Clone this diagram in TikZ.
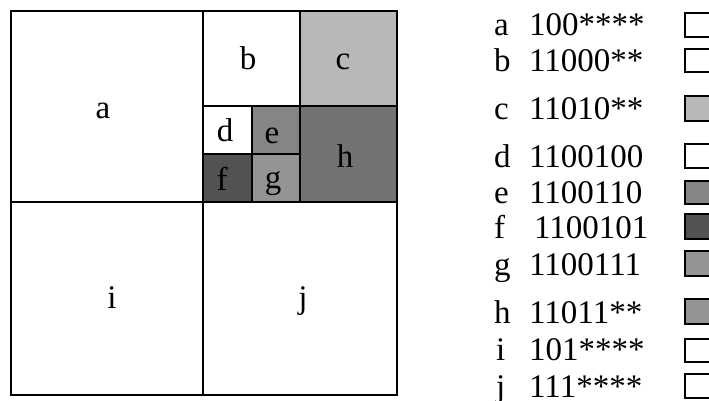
\documentclass[tikz,border=0pt]{standalone}
\usepackage{fontspec}
\setmainfont{Liberation Serif}
\begin{document}
\begin{tikzpicture}[x=1pt,y=-1pt,line width=2.4pt,
  every node/.style={inner sep=0pt,font=\fontsize{33}{40}\selectfont},
  lab/.style={anchor=base},
  leg/.style={anchor=base west},
  legbox/.style={draw,line width=2.6pt},
  shC/.style={fill=black!28},
  shE/.style={fill=black!48},
  shF/.style={fill=black!68},
  shG/.style={fill=black!42},
  shH/.style={fill=black!55}]
\useasboundingbox (0,0) rectangle (709,401);
% shaded regions
\fill[shC] (300,11) rectangle (397,106);
\fill[shE] (252,106) rectangle (300,154);
\fill[shF] (203,154) rectangle (252,202);
\fill[shG] (252,154) rectangle (300,202);
\fill[shH] (300,106) rectangle (397,202);
% lines
\draw (11,11) rectangle (397,395);
\draw (203,11) -- (203,395);
\draw (11,202) -- (397,202);
\draw (300,11) -- (300,202);
\draw (203,106) -- (397,106);
\draw (252,106) -- (252,202);
\draw (203,154) -- (300,154);
% labels
\node[lab] (la) at (103,118) {a};
\node[lab] (lb) at (248,70) {b};
\node[lab] (lc) at (343,70) {c};
\node[lab] (ld) at (225,142) {d};
\node[lab] (le) at (272,143) {e};
\node[lab] (lf) at (222,190) {f};
\node[lab] (lg) at (273,188) {g};
\node[lab] (lh) at (345,167) {h};
\node[lab] (li) at (112,308) {i};
\node[lab] (lj) at (303,308) {j};
% legend
\node[leg] (ka) at (493,36) {a};  \node[leg] (ca) at (528,36) {100****};
\node[leg] (kb) at (493,72) {b};  \node[leg] (cb) at (528,72) {11000**};
\node[leg] (kc) at (493,120) {c}; \node[leg] (cc) at (528,120) {11010**};
\node[leg] (kd) at (493,167) {d}; \node[leg] (cd) at (528,167) {1100100};
\node[leg] (ke) at (493,203) {e}; \node[leg] (ce) at (528,203) {1100110};
\node[leg] (kf) at (493,238) {f}; \node[leg] (cf) at (533,238) {1100101};
\node[leg] (kg) at (493,275) {g}; \node[leg] (cg) at (528,275) {1100111};
\node[leg] (kh) at (493,323) {h}; \node[leg] (ch) at (528,323) {11011**};
\node[leg] (ki) at (495,360) {i}; \node[leg] (ci) at (528,360) {101****};
\node[leg] (kj) at (495,397) {j}; \node[leg] (cj) at (528,397) {111****};
% legend boxes
\draw[legbox] (685,13) rectangle (716,37);
\draw[legbox] (685,49) rectangle (716,72);
\draw[legbox,shC] (685,96) rectangle (716,121);
\draw[legbox] (685,144) rectangle (716,168);
\draw[legbox,shE] (685,181) rectangle (716,204);
\draw[legbox,shF] (685,214) rectangle (716,239);
\draw[legbox,shG] (685,251) rectangle (716,276);
\draw[legbox,shG] (685,299) rectangle (716,324);
\draw[legbox] (685,339) rectangle (716,362);
\draw[legbox] (685,374) rectangle (716,398);
\end{tikzpicture}
\end{document}
